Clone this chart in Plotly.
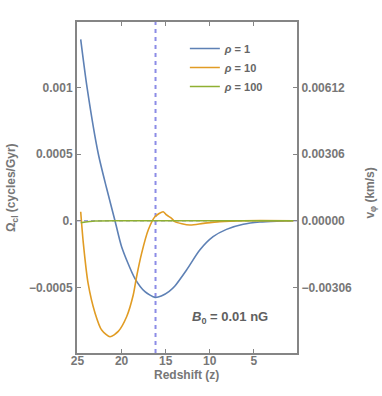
import plotly.graph_objects as go

# Redshift samples and Omega_cl values (cycles/Gyr)
z_rho1 = [24.64, 23.92, 22.64, 21.7, 20.75, 20.0, 18.5, 17.35, 16.2, 15.5, 14.6,
          13.95, 12.63, 11.13, 9.62, 8.1, 6.2, 4.33, 2.4, 0.5]
om_rho1 = [0.00136, 0.00100, 0.00050, 0.000243, 0.0, -0.000195, -0.000432, -0.000532,
           -0.000575, -0.000565, -0.00053, -0.00049, -0.00037, -0.00022, -0.00012,
           -0.000065, -0.000027, -0.00001, -0.000003, 0.0]

z_rho10 = [24.64, 24.34, 23.8, 23.0, 22.26, 21.32, 20.38, 19.43, 18.68, 18.3, 17.73,
           16.98, 16.22, 15.28, 14.9, 14.33, 13.96, 12.26, 10.75, 8.86, 6.2, 0.5]
om_rho10 = [0.0000675, -0.00017, -0.00047, -0.000695, -0.00082, -0.00087, -0.00083,
            -0.00072, -0.000557, -0.00042, -0.000245, -0.00007, 0.00003, 0.0000675,
            0.000043, 0.000018, -0.000007, -0.000032, -0.00002, -0.000007, 0.0, 0.0]

z_rho100 = [24.64, 23.0, 20.0, 15.0, 10.0, 5.0, 0.5]
om_rho100 = [-0.000015, -0.000002, 0.0, 0.0, 0.0, 0.0, 0.0]

series_names = ["<i>ρ</i> = 1", "<i>ρ</i> = 10", "<i>ρ</i> = 100"]
series_colors = ["#5E81B5", "#E19C24", "#8FB032"]

z_marker = 16.15  # vertical dashed line

x_ticks = [25, 20, 15, 10, 5]
y_ticks = [0.001, 0.0005, 0.0, -0.0005]
y_ticklabels = ["0.001", "0.0005", "0.", "−0.0005"]
v_scale = 6.12
y2_ticks = [0.00612, 0.00306, 0.0, -0.00306]
y2_ticklabels = ["0.00612", "0.00306", "0.00000", "−0.00306"]

y_range = [-0.000992, 0.00149]
x_range = [25.06, 0.1]

FRAME = "#858585"
TXT = "#777777"
FONT = "Liberation Sans, Arial, sans-serif"

fig = go.Figure()
for zs, vals, name, col in [(z_rho1, om_rho1, series_names[0], series_colors[0]),
                            (z_rho10, om_rho10, series_names[1], series_colors[1]),
                            (z_rho100, om_rho100, series_names[2], series_colors[2])]:
    fig.add_trace(go.Scatter(x=zs, y=vals, mode="lines", name=name,
                             line=dict(color=col, width=1.6, shape="spline", smoothing=0.7)))

# invisible trace for the right axis
fig.add_trace(go.Scatter(x=[x_range[0]], y=[0], yaxis="y2", mode="markers",
                         marker=dict(opacity=0), showlegend=False, hoverinfo="skip"))

fig.add_shape(type="line", xref="paper", yref="y", x0=0, x1=1, y0=0, y1=0,
              line=dict(color="#a0a0d8", width=1.5, dash="4px,3px"), layer="below")
fig.add_shape(type="line", xref="x", yref="paper", x0=z_marker, x1=z_marker, y0=0, y1=1,
              line=dict(color="#8c8ce6", width=2, dash="4px,4px"), layer="below")

fig.update_layout(
    width=382, height=396,
    margin=dict(l=77, r=85, t=22, b=43),
    paper_bgcolor="white", plot_bgcolor="white",
    font=dict(family=FONT, size=12, color=TXT),
    showlegend=True,
    legend=dict(x=(185 - 77) / 220.3, xanchor="left", y=(353 - 34) / 331, yanchor="top",
                bgcolor="rgba(0,0,0,0)", itemwidth=30,
                font=dict(family=FONT, size=11, color="#666666", weight="bold")),
    xaxis=dict(range=x_range, tickvals=x_ticks, ticks="inside", ticklen=4, tickcolor=FRAME,
               showline=True, linecolor=FRAME, linewidth=2, mirror="ticks", showgrid=False,
               zeroline=False, ticklabelstandoff=-4,
               tickfont=dict(family=FONT, size=12, color=TXT, weight="bold")),
    yaxis=dict(range=y_range, tickvals=y_ticks, ticktext=y_ticklabels, ticks="inside",
               ticklen=4, tickcolor=FRAME, showline=True, linecolor=FRAME, linewidth=2,
               showgrid=False, zeroline=False,
               tickfont=dict(family=FONT, size=12, color=TXT, weight="bold")),
    yaxis2=dict(range=[y_range[0] * v_scale, y_range[1] * v_scale], overlaying="y",
                side="right", tickvals=y2_ticks, ticktext=y2_ticklabels, ticks="inside",
                ticklen=4, tickcolor=FRAME, showline=True, linecolor=FRAME, linewidth=2,
                showgrid=False, zeroline=False,
                tickfont=dict(family=FONT, size=12, color=TXT, weight="bold")),
)

def px(xp):
    return (xp - 77) / 220.3

def py(yp):
    return (353 - yp) / 331

annos = [
    dict(x=px(12), y=py(188), text="Ω<sub>cl</sub> (cycles/Gyr)", textangle=-90),
    dict(x=px(371), y=py(193), text="v<sub>φ</sub> (km/s)", textangle=-90),
    dict(x=px(187), y=py(375), text="Redshift (z)"),
    dict(x=px(230), y=py(317), text="<i>B</i><sub>0</sub> = 0.01 nG",
         font=dict(family=FONT, size=13, color="#606060", weight="bold")),
]
for a in annos:
    a.setdefault("font", dict(family=FONT, size=12, color=TXT, weight="bold"))
    fig.add_annotation(xref="paper", yref="paper", showarrow=False,
                       xanchor="center", yanchor="middle", **a)

fig.write_html("out.html", config={"displayModeBar": False},
               post_script="document.body.style.margin='0';document.body.style.overflow='hidden';")
